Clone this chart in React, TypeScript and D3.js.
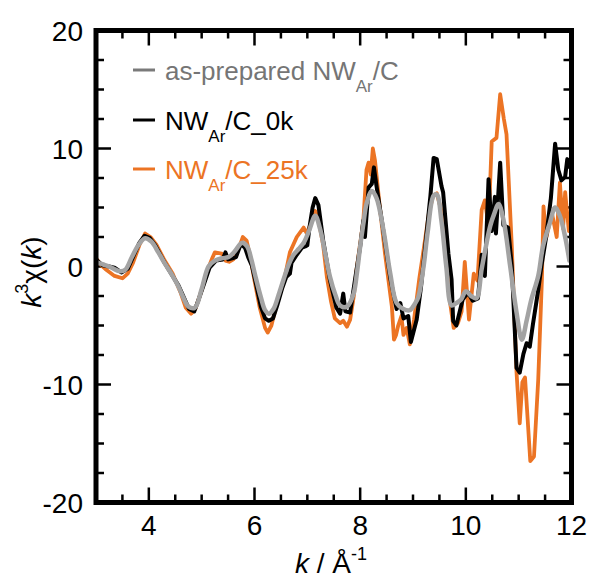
import React from "react";
import * as d3 from "d3";

// ---- data ----
const kGray = [3.0,3.12,3.25,3.45,3.55,3.68,3.8,3.93,4.05,4.18,4.31,4.45,4.56,4.66,4.75,4.87,5.0,5.13,5.25,5.38,5.51,5.63,5.76,5.86,5.94,6.01,6.12,6.2,6.27,6.36,6.45,6.55,6.65,6.74,6.84,6.93,7.03,7.15,7.24,7.33,7.43,7.53,7.62,7.75,7.87,7.94,8.0,8.06,8.12,8.22,8.31,8.44,8.57,8.69,8.82,8.94,9.03,9.1,9.2,9.28,9.39,9.45,9.54,9.63,9.73,9.82,9.91,10.0,10.1,10.2,10.3,10.38,10.46,10.54,10.62,10.71,10.84,10.96,11.06,11.15,11.24,11.37,11.46,11.59,11.69,11.78,11.88,11.96];
const vGray = [0.4,0.2,0.0,-0.4,-0.3,0.8,1.8,2.4,2.1,1.2,0.2,-0.8,-1.7,-2.7,-3.4,-3.5,-1.9,0.0,0.5,0.7,0.8,1.3,2.0,1.7,0.6,-0.7,-2.6,-3.7,-4.0,-3.6,-2.5,-1.1,0.2,1.0,1.5,2.0,3.0,4.3,3.2,1.3,-0.9,-2.4,-3.3,-3.4,-2.4,-0.5,1.7,3.6,5.3,6.4,5.8,3.1,-0.6,-3.1,-3.6,-3.7,-3.2,-2.6,0.0,3.0,6.0,6.1,3.8,0.0,-3.3,-3.1,-2.8,-2.1,-2.5,-2.7,-0.2,1.7,3.4,4.5,5.3,4.0,0.0,-3.9,-6.2,-4.6,-2.8,-0.8,1.7,3.7,5.0,4.3,2.5,0.5];

const kBlack = [3.0,3.12,3.25,3.35,3.48,3.6,3.7,3.82,3.92,4.02,4.12,4.3,4.45,4.56,4.66,4.76,4.86,4.95,5.05,5.15,5.27,5.4,5.45,5.5,5.58,5.65,5.74,5.82,5.88,5.95,6.03,6.12,6.2,6.27,6.35,6.43,6.52,6.6,6.67,6.7,6.8,6.9,6.96,7.0,7.04,7.1,7.15,7.21,7.3,7.43,7.55,7.62,7.68,7.72,7.81,7.9,8.0,8.06,8.09,8.16,8.22,8.26,8.31,8.41,8.57,8.69,8.76,8.82,8.91,8.96,9.07,9.15,9.25,9.33,9.39,9.45,9.54,9.57,9.67,9.73,9.76,9.82,9.88,9.94,10.04,10.13,10.23,10.26,10.3,10.36,10.43,10.49,10.55,10.57,10.65,10.71,10.8,10.87,10.96,11.02,11.09,11.15,11.21,11.27,11.37,11.43,11.52,11.61,11.69,11.75,11.81,11.88,11.92,11.97];
const vBlack = [0.6,0.1,0.0,-0.1,-0.5,-0.2,0.8,2.0,2.6,2.4,1.8,0.3,-0.8,-1.6,-2.6,-3.6,-3.8,-2.7,-1.4,-0.1,0.5,0.6,1.2,0.6,0.7,0.8,1.9,1.6,0.8,0.1,-1.5,-3.4,-4.4,-4.6,-4.4,-3.3,-1.9,-0.9,-0.6,0.3,1.0,1.6,1.7,1.8,3.3,5.0,5.8,5.2,2.2,-1.2,-3.5,-4.0,-2.3,-3.8,-3.9,-1.2,1.7,3.9,2.5,6.7,7.0,8.4,6.8,3.9,-1.0,-3.6,-3.1,-4.4,-4.2,-6.4,-4.5,-1.8,2.5,6.0,9.2,9.1,6.8,6.3,1.1,-1.1,-4.6,-5.0,-3.9,-2.8,-2.2,-2.9,-2.7,-1.2,1.0,-0.8,7.4,3.0,5.9,2.8,8.8,3.5,3.3,0.0,-8.6,-9.0,-7.4,-6.5,-6.8,-4.9,-2.0,0.0,2.5,5.8,10.4,8.2,7.3,7.6,9.1,8.4];

const kOrange = [3.0,3.1,3.2,3.35,3.5,3.6,3.7,3.82,3.93,4.03,4.15,4.3,4.45,4.6,4.7,4.8,4.88,5.0,5.12,5.2,5.25,5.38,5.45,5.52,5.6,5.7,5.78,5.85,5.92,6.0,6.1,6.2,6.25,6.32,6.42,6.55,6.67,6.8,6.93,6.99,7.08,7.15,7.21,7.3,7.37,7.45,7.52,7.62,7.68,7.75,7.81,7.88,7.93,8.06,8.12,8.16,8.2,8.24,8.28,8.37,8.47,8.6,8.64,8.68,8.72,8.78,8.82,8.88,8.94,9.02,9.12,9.22,9.3,9.38,9.45,9.55,9.63,9.7,9.77,9.85,9.92,9.98,10.06,10.15,10.22,10.3,10.36,10.43,10.49,10.58,10.65,10.72,10.77,10.87,10.96,11.02,11.07,11.12,11.22,11.29,11.37,11.44,11.47,11.52,11.63,11.72,11.78,11.84,11.88,11.95,12.0];
const vOrange = [0.7,0.1,-0.3,-0.8,-1.0,-0.6,0.3,1.8,2.8,2.5,1.8,0.5,-0.6,-2.2,-3.5,-4.0,-3.6,-2.0,-0.2,0.7,1.2,1.1,0.5,0.4,0.6,1.5,2.5,2.2,0.8,-1.2,-3.5,-5.2,-5.6,-5.0,-3.2,-1.4,1.2,2.5,3.3,2.8,3.8,4.7,4.0,1.8,-0.9,-3.0,-4.4,-4.8,-4.6,-5.1,-4.5,-2.5,-0.3,3.9,8.2,8.8,7.8,10.0,9.0,5.1,1.1,-3.4,-6.2,-5.8,-5.0,-4.2,-5.8,-5.2,-6.6,-4.5,-1.0,2.0,4.5,6.0,6.2,4.5,0.5,-3.0,-5.2,-4.8,-3.8,0.4,-4.5,-0.6,-1.2,4.8,5.6,3.5,10.6,10.9,14.6,12.5,11.2,1.7,-9.0,-13.3,-9.8,-9.4,-16.5,-16.1,-9.6,-1.1,5.1,2.4,4.5,2.5,7.1,3.2,6.3,3.0,5.0];

const xMajorTicks = [4, 6, 8, 10, 12];
const xMinorTicks = [3.5, 4.5, 5, 5.5, 6.5, 7, 7.5, 8.5, 9, 9.5, 10.5, 11, 11.5];
const yMajorTicks = [-20, -10, 0, 10, 20];
const yMinorTicks = [-17.5, -15, -12.5, -7.5, -5, -2.5, 2.5, 5, 7.5, 12.5, 15, 17.5];

const seriesNames = ["as-prepared NW", "NW", "NW"];
const seriesSuffix = ["/C", "/C_0k", "/C_25k"];
const seriesSub = "Ar";

const GRAY = "#a3a3a3";
const GRAY_TEXT = "#757575";
const BLACK = "#000000";
const ORANGE = "#ec7424";
const FONT = "'Liberation Sans', Arial, sans-serif";

export default function App() {
  const W = 594, H = 581;
  const L = 96, R = 571.5, T = 30.5, B = 502.5;
  const x = d3.scaleLinear().domain([3, 12]).range([L, R]);
  const y = d3.scaleLinear().domain([-20, 20]).range([B, T]);

  const mk = (ks: number[], vs: number[], curve: any) =>
    d3.line<[number, number]>()
      .x((d) => x(d[0]))
      .y((d) => y(d[1]))
      .curve(curve)(ks.map((k, i) => [k, vs[i]] as [number, number])) || "";

  const pGray = mk(kGray, vGray, d3.curveCatmullRom.alpha(0.5));
  const pBlack = mk(kBlack, vBlack, d3.curveLinear);
  const pOrange = mk(kOrange, vOrange, d3.curveLinear);

  const majorLen = 15, minorLen = 8, tickW = 2.5;

  const legendRows = [
    { color: GRAY_TEXT, lineColor: "#7a7a7a", yb: 80 },
    { color: BLACK, lineColor: BLACK, yb: 130 },
    { color: ORANGE, lineColor: ORANGE, yb: 179 },
  ];

  return (
    <svg width={W} height={H} style={{ position: "absolute", left: 0, top: 0, background: "#fff" }} fontFamily={FONT}>
      <defs>
        <clipPath id="plotclip">
          <rect x={L} y={T} width={R - L} height={B - T} />
        </clipPath>
      </defs>
      <rect x={0} y={0} width={W} height={H} fill="#fff" />

      {/* ticks */}
      <g stroke="#000" strokeWidth={tickW}>
        {xMajorTicks.map((t) => (
          <g key={"xM" + t}>
            <line x1={x(t)} x2={x(t)} y1={B} y2={B - majorLen} />
            <line x1={x(t)} x2={x(t)} y1={T} y2={T + majorLen} />
          </g>
        ))}
        {xMinorTicks.map((t) => (
          <g key={"xm" + t}>
            <line x1={x(t)} x2={x(t)} y1={B} y2={B - minorLen} />
            <line x1={x(t)} x2={x(t)} y1={T} y2={T + minorLen} />
          </g>
        ))}
        {yMajorTicks.map((t) => (
          <g key={"yM" + t}>
            <line x1={L} x2={L + majorLen} y1={y(t)} y2={y(t)} />
            <line x1={R} x2={R - majorLen} y1={y(t)} y2={y(t)} />
          </g>
        ))}
        {yMinorTicks.map((t) => (
          <g key={"ym" + t}>
            <line x1={L} x2={L + minorLen} y1={y(t)} y2={y(t)} />
            <line x1={R} x2={R - minorLen} y1={y(t)} y2={y(t)} />
          </g>
        ))}
      </g>

      {/* data */}
      <g clipPath="url(#plotclip)" fill="none" strokeLinejoin="round" strokeLinecap="round">
        <path d={pOrange} stroke={ORANGE} strokeWidth={3.8} />
        <path d={pBlack} stroke={BLACK} strokeWidth={4} />
        <path d={pGray} stroke={GRAY} strokeWidth={4.5} />
      </g>

      {/* frame */}
      <rect x={L} y={T} width={R - L} height={B - T} fill="none" stroke="#000" strokeWidth={5} />

      {/* tick labels */}
      <g fontSize={28} fill="#000">
        {xMajorTicks.map((t) => (
          <text key={"xl" + t} x={x(t)} y={535} textAnchor="middle">{t}</text>
        ))}
        {yMajorTicks.map((t) => (
          <text key={"yl" + t} x={83} y={y(t) + 10} textAnchor="end">{t}</text>
        ))}
      </g>

      {/* axis titles */}
      <text x={331} y={573} textAnchor="middle" fontSize={28} fill="#000">
        <tspan fontStyle="italic">k</tspan>
        <tspan> / Å</tspan>
        <tspan fontSize={18} dy={-13}>-1</tspan>
      </text>
      <text transform="translate(41,272) rotate(-90)" textAnchor="middle" fontSize={28} fill="#000">
        <tspan fontStyle="italic">k</tspan>
        <tspan fontSize={18} dy={-13}>3</tspan>
        <tspan dy={13}>χ(</tspan>
        <tspan fontStyle="italic">k</tspan>
        <tspan>)</tspan>
      </text>

      {/* legend */}
      {legendRows.map((r, i) => (
        <g key={"lg" + i}>
          <line x1={133} x2={155} y1={r.yb - 10} y2={r.yb - 10} stroke={r.lineColor} strokeWidth={3} />
          <text x={165} y={r.yb} fontSize={26} fill={r.color}>
            {seriesNames[i]}
            <tspan fontSize={17} dy={12}>{seriesSub}</tspan>
            <tspan dy={-12}>{seriesSuffix[i]}</tspan>
          </text>
        </g>
      ))}
    </svg>
  );
}
